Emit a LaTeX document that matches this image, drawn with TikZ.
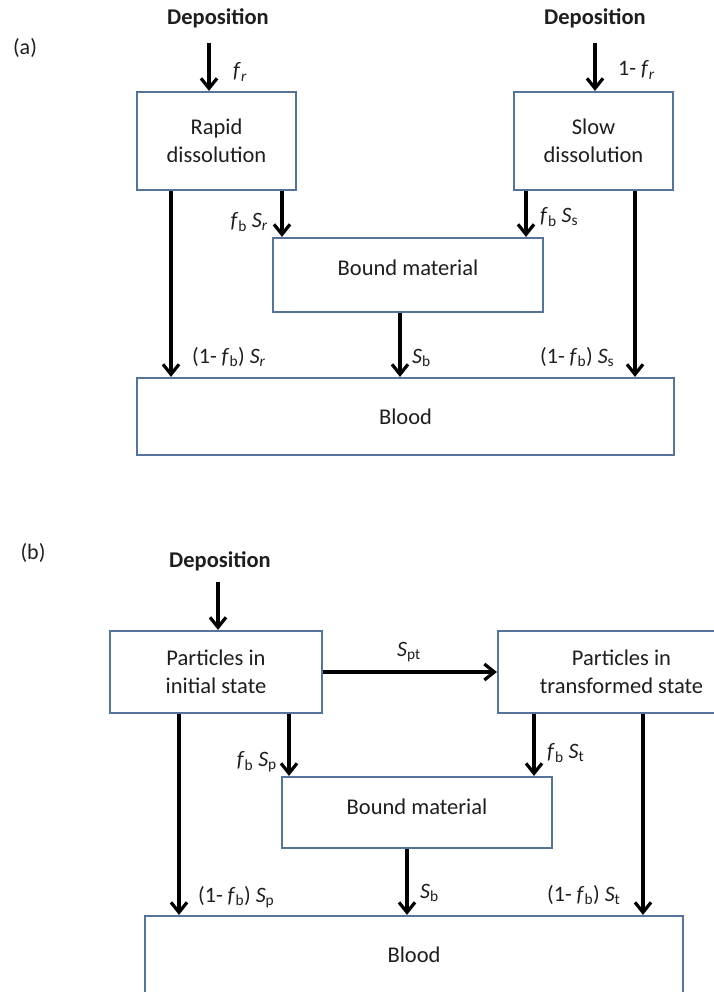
\documentclass[tikz,border=0pt]{standalone}
\usepackage{fontspec}
\setmainfont{Carlito}
\usetikzlibrary{arrows.meta}
\definecolor{boxc}{RGB}{85,115,155}
\definecolor{txt}{RGB}{30,30,30}
\begin{document}
\begin{tikzpicture}[x=1pt,y=-1pt,
  box/.style={draw=boxc, line width=2.2pt, fill=white, align=center, inner sep=0pt,
    font=\fontsize{22.5}{28}\selectfont, text=txt},
  arr/.style={line width=3.2pt, -{Straight Barb[length=10pt,width=16pt,line width=3.2pt]}},
  lbl/.style={inner sep=0pt, font=\fontsize{22}{26}\selectfont, text=txt},
  hdr/.style={inner sep=0pt, font=\bfseries\fontsize{22.5}{28}\selectfont, text=txt}]
\useasboundingbox (0,0) rectangle (713,992);

% ---------------- (a) ----------------
\node[lbl] (laba) at (25,48) {(a)};
\node[hdr] (depa1) at (218,18) {Deposition};
\node[hdr] (depa2) at (595,18) {Deposition};

\node[box, minimum width=159pt, minimum height=98pt] (rapid) at (216.5,141) {Rapid\\dissolution};
\node[box, minimum width=159pt, minimum height=98pt] (slow) at (593.5,141) {Slow\\dissolution};
\node[box, minimum width=270pt, minimum height=74pt, text depth=14pt] (bounda) at (408,275) {Bound material};
\node[box, minimum width=537pt, minimum height=77pt] (blooda) at (405.5,416.5) {Blood};

\coordinate (ca1) at (209,43);
\coordinate (ca2) at (595,43);
\coordinate (xa1) at (171,0);
\coordinate (xa2) at (282,0);
\coordinate (xa3) at (526,0);
\coordinate (xa4) at (635,0);
\coordinate (xa5) at (400,0);

\draw[arr] (ca1) -- (ca1 |- rapid.north);
\draw[arr] (ca2) -- (ca2 |- slow.north);
\draw[arr] (rapid.south -| xa1) -- (blooda.north -| xa1);
\draw[arr] (rapid.south -| xa2) -- (bounda.north -| xa2);
\draw[arr] (slow.south -| xa3) -- (bounda.north -| xa3);
\draw[arr] (slow.south -| xa4) -- (blooda.north -| xa4);
\draw[arr] (bounda.south -| xa5) -- (blooda.north -| xa5);

\node[lbl, anchor=west] (lfr) at (233,72) {\textit{f}\textsubscript{\textit{r}}};
\node[lbl, anchor=west] (l1fr) at (618,70) {1- \textit{f}\textsubscript{\textit{r}}};
\node[lbl, anchor=east] (lfbsr) at (268,222) {\textit{f}\textsubscript{b} \textit{S}\textsubscript{\textit{r}}};
\node[lbl, anchor=west] (lfbss) at (540,217) {\textit{f}\textsubscript{b} \textit{S}\textsubscript{s}};
\node[lbl, anchor=west] (l1r) at (192,357) {(1- \textit{f}\textsubscript{b}) \textit{S}\textsubscript{\textit{r}}};
\node[lbl, anchor=west] (lsba) at (412,358) {\textit{S}\textsubscript{b}};
\node[lbl, anchor=west] (l1s) at (540,357) {(1- \textit{f}\textsubscript{b}) \textit{S}\textsubscript{s}};

% ---------------- (b) ----------------
\node[lbl] (labb) at (33,553) {(b)};
\node[hdr] (depb) at (220,561) {Deposition};

\node[box, minimum width=212pt, minimum height=82pt] (init) at (216,672) {Particles in\\initial state};
\node[box, minimum width=247pt, minimum height=82pt] (trans) at (621.5,672) {Particles in\\transformed state};
\node[box, minimum width=270pt, minimum height=71pt, text depth=11pt] (boundb) at (417,812.5) {Bound material};
\node[box, minimum width=538pt, minimum height=78pt] (bloodb) at (414,955) {Blood};

\coordinate (cb1) at (218,582);
\coordinate (xb1) at (179,0);
\coordinate (xb2) at (289,0);
\coordinate (xb3) at (534,0);
\coordinate (xb4) at (643,0);
\coordinate (xb5) at (407,0);

\draw[arr] (cb1) -- (cb1 |- init.north);
\draw[arr] (init.east) -- (trans.west);
\draw[arr] (init.south -| xb1) -- (bloodb.north -| xb1);
\draw[arr] (init.south -| xb2) -- (boundb.north -| xb2);
\draw[arr] (trans.south -| xb3) -- (boundb.north -| xb3);
\draw[arr] (trans.south -| xb4) -- (bloodb.north -| xb4);
\draw[arr] (boundb.south -| xb5) -- (bloodb.north -| xb5);

\node[lbl] (lspt) at (409,652) {\textit{S}\textsubscript{pt}};
\node[lbl, anchor=east] (lfbsp) at (277,762) {\textit{f}\textsubscript{b} \textit{S}\textsubscript{p}};
\node[lbl, anchor=west] (lfbst) at (547,753) {\textit{f}\textsubscript{b} \textit{S}\textsubscript{t}};
\node[lbl, anchor=west] (l1p) at (198,897) {(1- \textit{f}\textsubscript{b}) \textit{S}\textsubscript{p}};
\node[lbl, anchor=west] (lsbb) at (420,893) {\textit{S}\textsubscript{b}};
\node[lbl, anchor=west] (l1t) at (547,895) {(1- \textit{f}\textsubscript{b}) \textit{S}\textsubscript{t}};
\end{tikzpicture}
\end{document}
